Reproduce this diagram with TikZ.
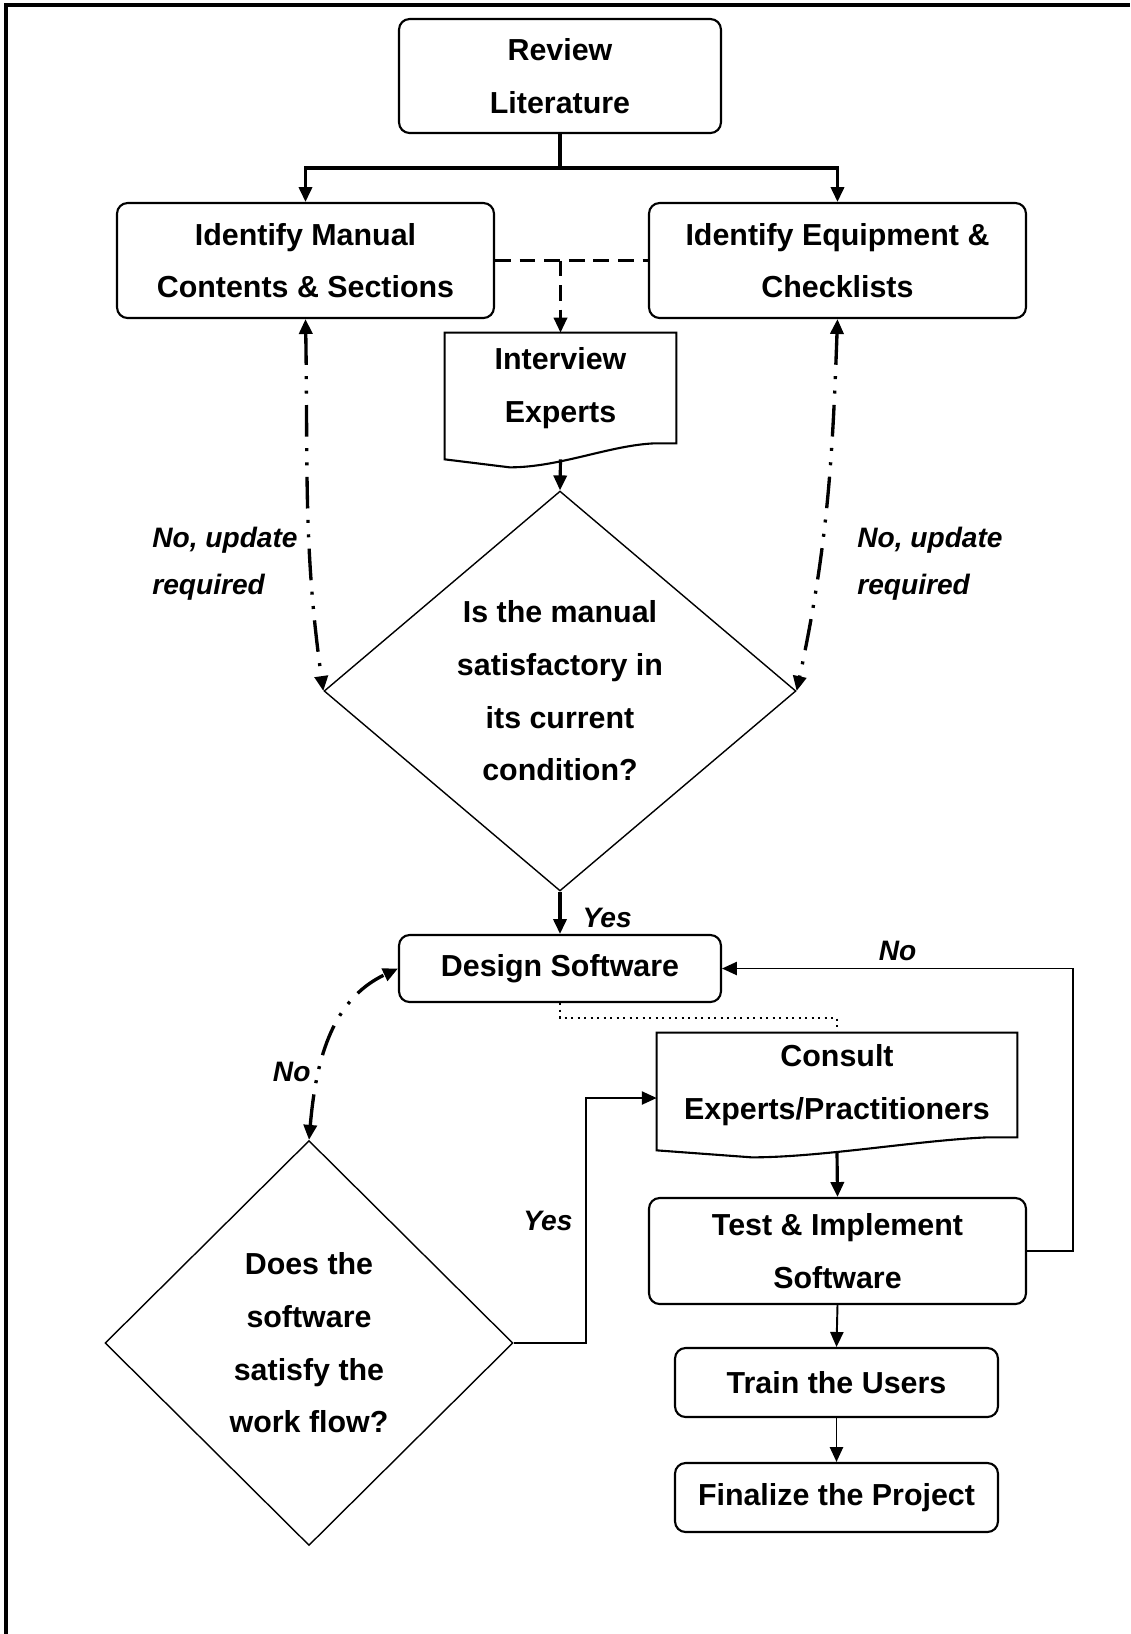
\documentclass[tikz,border=0pt]{standalone}
\usepackage{fontspec}
\setmainfont{Liberation Sans}
\usetikzlibrary{shapes.geometric,arrows.meta,calc}

\begin{document}
\begin{tikzpicture}[x=0.02cm,y=-0.02cm,
  >={Triangle[length=8.5pt,width=7.5pt]},
  box/.style={draw,rounded corners=6pt,line width=1.2pt,align=center,inner sep=0pt,
    font=\fontsize{17.3}{30}\selectfont\bfseries},
  doc/.style={align=center,inner sep=0pt,font=\fontsize{17.3}{30}\selectfont\bfseries},
  decision/.style={draw,diamond,line width=0.8pt,align=center,inner sep=0pt,
    font=\fontsize{17.3}{30}\selectfont\bfseries},
  lbl/.style={align=left,inner sep=0pt,font=\fontsize{16}{27}\selectfont\bfseries\itshape},
  conn/.style={line width=1.8pt,->},
  thinconn/.style={line width=1.1pt,->},
  dashline/.style={line width=1.6pt,dash pattern=on 9pt off 5pt},
  dotline/.style={line width=1.3pt,dash pattern=on 1.3pt off 2.4pt},
  dashdotdot/.style={line width=1.9pt,<->,dash pattern=on 18pt off 6.5pt on 1.7pt off 6.5pt on 1.7pt off 6.5pt}
]
\useasboundingbox (0,0) rectangle (1130,1634);

% 1. Frame
\draw[line width=1.8pt] (6,1634) -- (6,5) -- (1130,5);

% 2. Boxes of the upper part
\node[box,minimum width=6.44cm,minimum height=2.28cm] (rev) at (560,76) {Review\\Literature};
\node[box,minimum width=7.54cm,minimum height=2.3cm] (man) at (305.5,260.5) {Identify Manual\\Contents \& Sections};
\node[box,minimum width=7.54cm,minimum height=2.3cm] (equ) at (837.5,260.5) {Identify Equipment \&\\Checklists};
\node[doc,minimum width=4.62cm,minimum height=2.2cm] (intv) at (560.5,388) {Interview\\Experts};
\draw[line width=1.2pt] (intv.north west) -- (intv.north east) -- (intv.south east) -- ++(-22,0)
  .. controls +(-45,2) and +(50,0) .. ($(intv.south west)+(65,24)$) -- ($(intv.south west)+(0,16)$) -- cycle;
\coordinate (intvb) at ($(intv.south)+(0,16)$);
\node[decision,minimum width=9.44cm,minimum height=8cm] (dia1) at (560,691)
  {Is the manual\\satisfactory in\\its current\\condition?};

% 3. Labels beside the update loops
\node[lbl,anchor=west] (upl) at (152,564) {No, update\\required};
\node[lbl,anchor=west] (upr) at (857,564) {No, update\\required};

% 4. Boxes of the lower part
\node[box,minimum width=6.44cm,minimum height=1.34cm] (dsw) at (560,968.5) {Design Software};
\node[doc,minimum width=7.2cm,minimum height=2.08cm] (con) at (837,1085) {Consult\\Experts/Practitioners};
\draw[line width=1.2pt] (con.north west) -- (con.north east) -- (con.south east) -- ++(-30,0)
  .. controls +(-70,3) and +(70,0) .. ($(con.south west)+(95,20)$) -- ($(con.south west)+(0,13)$) -- cycle;
\coordinate (conb) at ($(con.south)+(0,14)$);
\node[box,minimum width=7.54cm,minimum height=2.12cm] (tst) at (837.5,1251) {Test \& Implement\\Software};
\node[box,minimum width=6.46cm,minimum height=1.38cm] (trn) at (836.5,1382.5) {Train the Users};
\node[box,minimum width=6.46cm,minimum height=1.38cm] (fin) at (836.5,1497.5) {Finalize the Project};
\node[decision,minimum width=8.16cm,minimum height=8.1cm] (dia2) at (309,1343)
  {Does the\\software\\satisfy the\\work flow?};

% 5. Connectors
\draw[conn] (rev.south) -- ++(0,34) -| (man.north);
\draw[conn] (rev.south) -- ++(0,34) -| (equ.north);
\draw[dashline] (man.east) -- (equ.west);
\draw[dashline,->] (man.east -| intv.north) -- (intv.north);
\draw[conn] (intvb) -- (dia1.north);
\draw[dashdotdot] (man.south) to[out=-89,in=98] (dia1.west);
\draw[dashdotdot] (equ.south) to[out=-92,in=78] (dia1.east);
\draw[conn] (dia1.south) -- node[lbl,right=12pt,yshift=-3pt] {Yes} (dsw.north);
\draw[dotline] (dsw.south) -- ++(0,15) -| (con.north);
\draw[conn] (conb) -- (tst.north);
\draw[thinconn] (tst.south) -- (trn.north);
\draw[thinconn] (trn.south) -- (fin.north);
\draw[thinconn] (tst.east) -- ++(46,0) |- node[lbl,pos=0.75,above=4pt] {No} (dsw.east);
\draw[thinconn] (dia2.east) -- ++(72,0) |- node[lbl,pos=0.25,left=7pt] {Yes} ([yshift=-0.26cm]con.west);
\draw[dashdotdot] (dia2.north) to[out=85,in=205] node[lbl,pos=0.32,left=4pt] {No} (dsw.west);

\end{tikzpicture}
\end{document}
